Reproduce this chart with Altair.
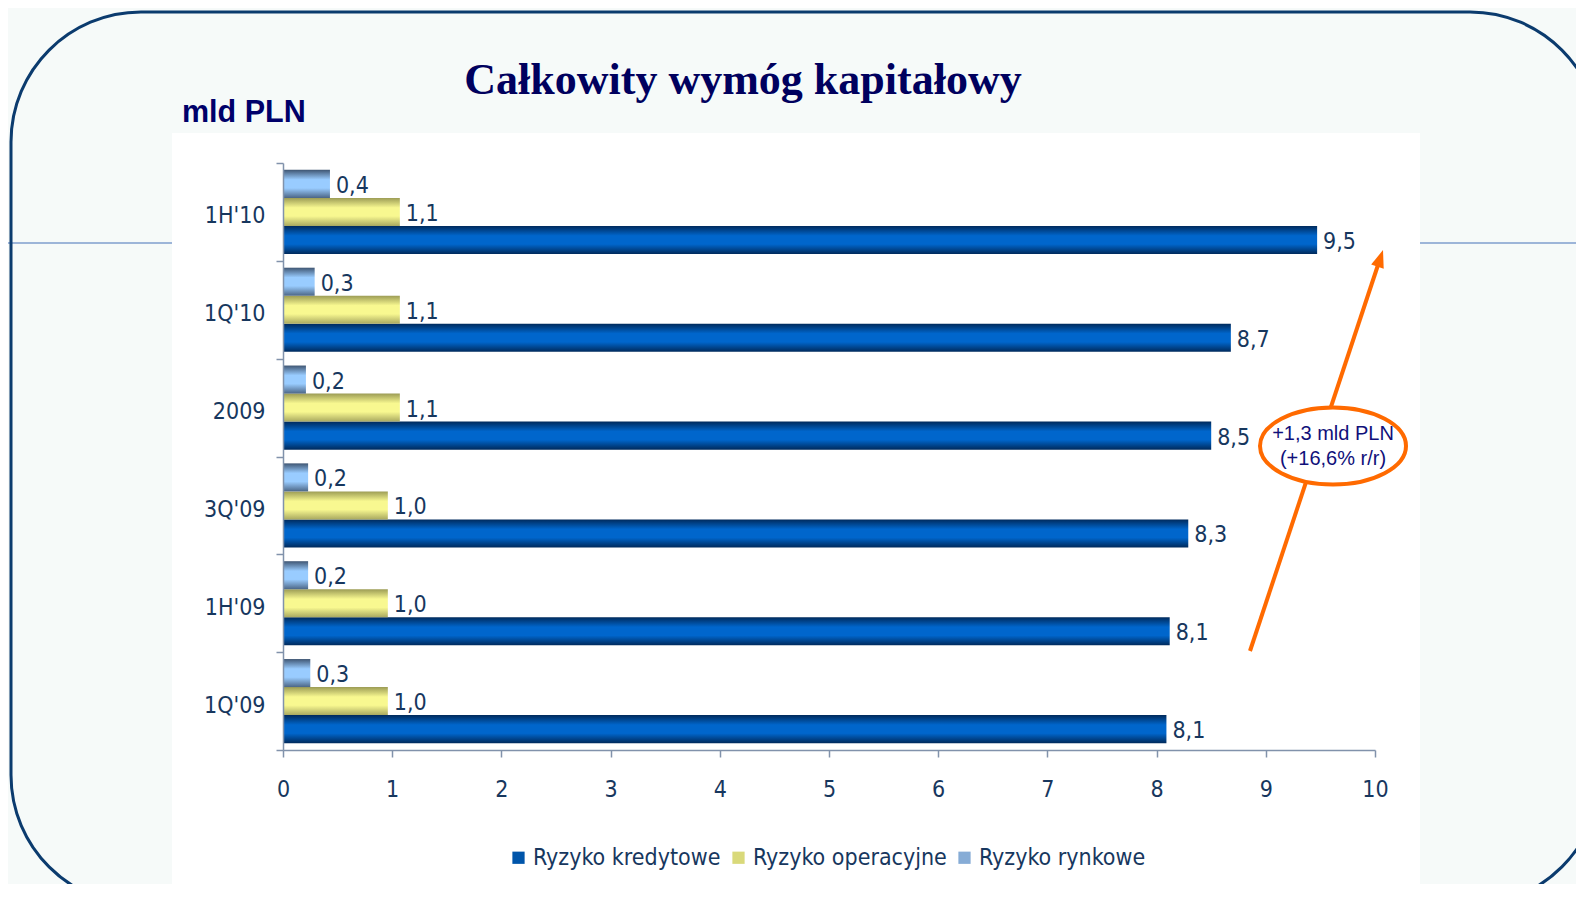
import altair as alt
import pandas as pd

# ---------------- data ----------------
categories = ["1H'10", "1Q'10", "2009", "3Q'09", "1H'09", "1Q'09"]
series = ["Ryzyko kredytowe", "Ryzyko operacyjne", "Ryzyko rynkowe"]
kredytowe = [9.47, 8.68, 8.50, 8.29, 8.12, 8.09]
operacyjne = [1.07, 1.07, 1.07, 0.96, 0.96, 0.96]
rynkowe = [0.43, 0.29, 0.21, 0.23, 0.23, 0.25]
kredytowe_lab = ["9,5", "8,7", "8,5", "8,3", "8,1", "8,1"]
operacyjne_lab = ["1,1", "1,1", "1,1", "1,0", "1,0", "1,0"]
rynkowe_lab = ["0,4", "0,3", "0,2", "0,2", "0,2", "0,3"]
x_ticks = list(range(0, 11))
title_text = "Całkowity wymóg kapitałowy"
unit_text = "mld PLN"
note_lines = ["+1,3 mld PLN", "(+16,6% r/r)"]

rows = []
for s, vals, labs in [
    (series[0], kredytowe, kredytowe_lab),
    (series[1], operacyjne, operacyjne_lab),
    (series[2], rynkowe, rynkowe_lab),
]:
    for c, v, l in zip(categories, vals, labs):
        rows.append({"category": c, "series": s, "value": v, "label": l})
df = pd.DataFrame(rows)
one = pd.DataFrame({"k": [0]})

# ---------------- style ----------------
FONT = "'DejaVu Sans Condensed', 'Liberation Sans Narrow', 'DejaVu Sans', sans-serif"
TXT = "#17375e"
AXC = "#8192ab"
W, H = 1092, 587


def grad(edge, mid, edge2=None):
    return alt.LinearGradient(
        gradient="linear", x1=0, x2=0, y1=0, y2=1,
        stops=[
            alt.GradientStop(color=edge, offset=0),
            alt.GradientStop(color=mid, offset=0.35),
            alt.GradientStop(color=mid, offset=0.65),
            alt.GradientStop(color=edge2 or edge, offset=1),
        ],
    )


fills = {
    series[0]: grad("#002a5c", "#0066cc"),
    series[1]: grad("#9c9c55", "#f8f890", "#a9a960"),
    series[2]: grad("#3f5673", "#99ccff", "#4c6686"),
}
solid = ["#0055aa", "#d9d97a", "#86acd6"]
offset_order = [series[2], series[1], series[0]]

x_enc = alt.X(
    "value:Q",
    scale=alt.Scale(domain=[0, 10], nice=False),
    axis=alt.Axis(
        values=x_ticks, format="d", title=None, grid=False, zindex=2,
        labelFlush=False,
        labelFont=FONT, labelFontSize=23, labelColor=TXT, labelPadding=21,
        tickSize=7, tickColor=AXC, domainColor=AXC, domainWidth=1.5, tickWidth=1.5,
    ),
)
y_enc = alt.Y(
    "category:N",
    scale=alt.Scale(domain=categories, paddingInner=0, paddingOuter=0),
    axis=alt.Axis(
        title=None, grid=False, tickBand="extent", zindex=2, labelOffset=4,
        labelFont=FONT, labelFontSize=23, labelColor=TXT, labelPadding=11,
        tickSize=7, tickColor=AXC, domainColor=AXC, domainWidth=1.5, tickWidth=1.5,
    ),
)
yo_enc = alt.YOffset(
    "series:N", scale=alt.Scale(domain=offset_order, paddingInner=0, paddingOuter=0.245)
)

# ---------------- decoration ----------------
bg_white = alt.Chart(one).mark_rect(color="white").encode(
    x=alt.value(-111), x2=alt.value(1137), y=alt.value(-30), y2=alt.value(729)
)
hline_l = alt.Chart(one).mark_rule(color="#4470b8", strokeWidth=1).encode(
    x=alt.value(-283), x2=alt.value(-111), y=alt.value(80)
)
hline_r = alt.Chart(one).mark_rule(color="#4470b8", strokeWidth=1).encode(
    x=alt.value(1137), x2=alt.value(1310), y=alt.value(80)
)
border = alt.Chart(one).mark_rect(
    fillOpacity=0, stroke="#0b3b6e", strokeWidth=3, cornerRadius=130
).encode(x=alt.value(-272), x2=alt.value(1317), y=alt.value(-151), y2=alt.value(742))

# ---------------- bars ----------------
bar_layers = []
for s in series:
    bar_layers.append(
        alt.Chart(df)
        .transform_filter(alt.datum.series == s)
        .mark_bar(fill=fills[s])
        .encode(x=x_enc, y=y_enc, yOffset=yo_enc)
    )

labels = alt.Chart(df).mark_text(
    align="left", baseline="middle", dx=6, dy=2, font=FONT, fontSize=23, color=TXT
).encode(x="value:Q", y=y_enc, yOffset=yo_enc, text="label:N")

legend_layer = alt.Chart(df).mark_square(size=0, opacity=1).encode(
    x="value:Q",
    y=y_enc,
    yOffset=yo_enc,
    color=alt.Color(
        "series:N",
        scale=alt.Scale(domain=series, range=solid),
        legend=alt.Legend(
            orient="none", legendX=224, legendY=683, direction="horizontal",
            title=None, symbolType="square", symbolSize=150, symbolStrokeWidth=0,
            labelFont=FONT, labelFontSize=23, labelColor=TXT, labelOffset=3,
            columnPadding=6, labelLimit=400,
        ),
    ),
)

# ---------------- annotation ----------------
ORANGE = "#ff6a00"
arrow = alt.Chart(one).mark_rule(color=ORANGE, strokeWidth=4).encode(
    x=alt.value(967), y=alt.value(488), x2=alt.value(1095), y2=alt.value(102)
)
arrow_head = alt.Chart(one).mark_point(
    shape="M 0 0 L 0.6 1.6 L -0.6 1.6 Z", size=484, angle=18.4,
    filled=True, fill=ORANGE, strokeWidth=0, opacity=1,
).encode(x=alt.value(1100), y=alt.value(87))
ellipse = alt.Chart(one).mark_point(
    shape="M -1 0 C -1 -0.29 -0.552 -0.527 0 -0.527 C 0.552 -0.527 1 -0.29 1 0 "
          "C 1 0.29 0.552 0.527 0 0.527 C -0.552 0.527 -1 0.29 -1 0 Z",
    size=146 * 146, filled=True, fill="white", stroke=ORANGE, strokeWidth=4, opacity=1,
).encode(x=alt.value(1050), y=alt.value(283))
note1 = alt.Chart(one).mark_text(
    text=note_lines[0], font="Liberation Sans", fontSize=20, color="#10107a",
    align="center", baseline="middle",
).encode(x=alt.value(1050), y=alt.value(271))
note2 = alt.Chart(one).mark_text(
    text=note_lines[1], font="Liberation Sans", fontSize=20, color="#10107a",
    align="center", baseline="middle",
).encode(x=alt.value(1050), y=alt.value(296))

title = alt.Chart(one).mark_text(
    text=title_text, font="Liberation Serif", fontWeight="bold", fontSize=44,
    color="#00005e", align="center", baseline="middle",
).encode(x=alt.value(460), y=alt.value(-82))
unit = alt.Chart(one).mark_text(
    text=unit_text, font="Liberation Sans", fontWeight="bold", fontSize=30.5,
    color="#00006a", align="left", baseline="middle",
).encode(x=alt.value(-101), y=alt.value(-50))

chart = alt.layer(
    bg_white, hline_l, hline_r, border,
    *bar_layers, labels, legend_layer,
    arrow, ellipse, arrow_head, note1, note2, title, unit,
).properties(
    width=W, height=H,
    autosize=alt.AutoSizeParams(type="none"),
    padding={"left": 275, "top": 155, "right": 201, "bottom": 134},
    background="#f6faf9",
).configure_view(stroke="transparent")

chart.save("out.html", embed_options={"renderer": "svg", "actions": False})
